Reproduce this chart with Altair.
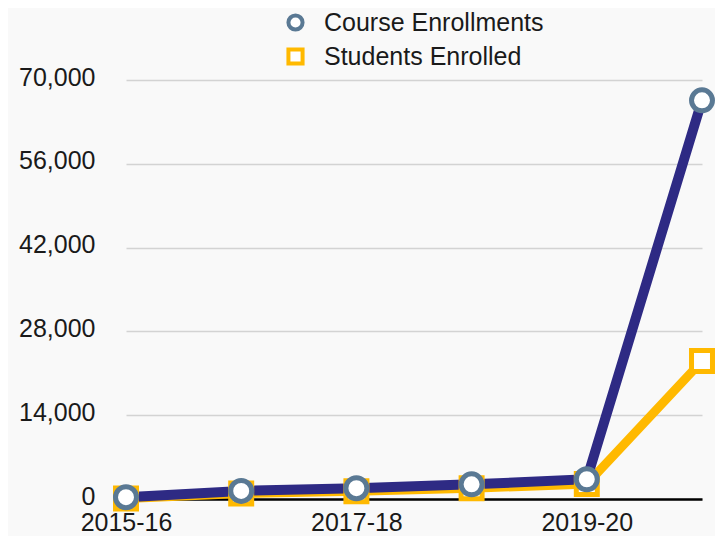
import altair as alt
import pandas as pd

years = ["2015-16", "2016-17", "2017-18", "2018-19", "2019-20", "2020-21"]
course_enrollments = [300, 1350, 1800, 2450, 3300, 66600]
students_enrolled = [100, 900, 1300, 1800, 2500, 23050]
series_names = ["Course Enrollments", "Students Enrolled"]
x_tick_labels = ["2015-16", "2017-18", "2019-20"]
y_ticks = [0, 14000, 28000, 42000, 56000, 70000]

BLUE = "#2E2A84"
STEEL = "#5A7994"
YELLOW = "#FFB900"
FONT = "Liberation Sans"

rows = []
for yr, v in zip(years, students_enrolled):
    rows.append({"series": "Students Enrolled", "year": yr, "value": v})
for yr, v in zip(years, course_enrollments):
    rows.append({"series": "Course Enrollments", "year": yr, "value": v})
df = pd.DataFrame(rows)

x = alt.X(
    "year:N",
    sort=years,
    scale=alt.Scale(type="point", padding=0),
    axis=alt.Axis(
        values=x_tick_labels, title=None, labelAngle=0, ticks=False,
        domainColor="black", domainWidth=2.5, labelPadding=11, grid=False,
        labelFontSize=25,
    ),
)
y = alt.Y(
    "value:Q",
    scale=alt.Scale(domain=[0, 70000], nice=False),
    axis=alt.Axis(
        values=y_ticks, format=",.0f", title=None, ticks=False, domain=False,
        labelPadding=31, gridColor="#d3d3d3", gridWidth=1.5, labelFontSize=25,
        labelOffset=-3,
    ),
)

base = alt.Chart(df)

line_students = base.transform_filter(alt.datum.series == "Students Enrolled").mark_line(
    color=YELLOW, strokeWidth=9
).encode(x=x, y=y)

line_course = base.transform_filter(alt.datum.series == "Course Enrollments").mark_line(
    color=BLUE, strokeWidth=10
).encode(x=x, y=y)

leg = alt.Legend(
    title=None, orient="none", legendX=157, legendY=-70,
    labelFontSize=25, labelFont=FONT, labelColor="#1a1a1a", labelLimit=400,
    symbolSize=200, symbolStrokeWidth=4, symbolFillColor="white",
    rowPadding=3, labelOffset=16,
)

points = base.mark_point(filled=True, fill="white", fillOpacity=1, opacity=1, strokeWidth=5, size=440).encode(
    x=x,
    y=y,
    shape=alt.Shape(
        "series:N",
        scale=alt.Scale(domain=series_names, range=["circle", "square"]),
        legend=leg,
    ),
    stroke=alt.Stroke(
        "series:N",
        scale=alt.Scale(domain=series_names, range=[STEEL, YELLOW]),
        legend=leg,
    ),
)

chart = alt.layer(line_students, line_course, points).properties(
    width=576,
    height=419,
    padding={"left": 118, "top": 72, "right": 13, "bottom": 37},
    autosize=alt.AutoSizeParams(type="none"),
    background="#f9f9f9",
).configure_view(stroke=None).configure_axis(
    labelFont=FONT, labelColor="#1a1a1a"
)

chart.save("out.html", embed_options={"renderer": "svg", "actions": False})
